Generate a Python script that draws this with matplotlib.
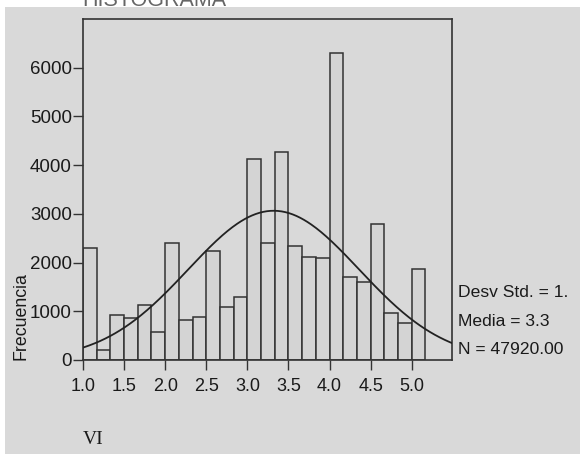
import numpy as np
import matplotlib.pyplot as plt
from matplotlib.patches import Rectangle

# histogram bins: width 1/6 starting at 1.0
bin_start = 1.0
bin_width = 1 / 6
counts = [2290, 200, 920, 870, 1130, 580, 2410, 820, 890, 2230,
          1080, 1290, 4130, 2400, 4280, 2350, 2120, 2090, 6300, 1700,
          1600, 2790, 960, 750, 1860]

x_ticks = [1.0, 1.5, 2.0, 2.5, 3.0, 3.5, 4.0, 4.5, 5.0]
y_ticks = [0, 1000, 2000, 3000, 4000, 5000, 6000]

# fitted normal curve parameters
mean = 3.32
std_dev = 1.04
n_total = 47920

stats_lines = ["Desv Std. = 1.", "Media = 3.3", "N = 47920.00"]
x_label = "VI"
y_label = "Frecuencia"
title = "HISTOGRAMA"

bg = "#d9d9d9"
edge = "#333333"
txt = "#1a1a1a"
font = "Liberation Sans"

fig = plt.figure(figsize=(5.8, 4.54), dpi=100, facecolor="white")
fig.add_artist(Rectangle((5 / 580, 0), 1, 1 - 7 / 454, transform=fig.transFigure,
                         facecolor=bg, edgecolor="none", zorder=-10))

ax = fig.add_axes([83 / 580, 94 / 454, 369 / 580, 341 / 454])
ax.set_facecolor(bg)

edges = bin_start + bin_width * np.arange(len(counts))
ax.bar(edges, counts, width=bin_width, align="edge", color="#d4d4d4",
       edgecolor=edge, linewidth=1.1, zorder=2)

xlim = (1.0, 5.49)
xs = np.linspace(xlim[0], xlim[1], 300)
curve = n_total * bin_width / (std_dev * np.sqrt(2 * np.pi)) * np.exp(-0.5 * ((xs - mean) / std_dev) ** 2)
ax.plot(xs, curve, color="#222222", linewidth=1.3, zorder=3)

ax.set_xlim(*xlim)
ax.set_ylim(0, 7000)
ax.set_xticks(x_ticks)
ax.set_xticklabels([f"{v:.1f}" for v in x_ticks], fontsize=13, family=font, color=txt)
ax.set_yticks(y_ticks)
ax.set_yticklabels([str(v) for v in y_ticks], fontsize=13.5, family=font, color=txt)
ax.tick_params(axis="x", direction="out", length=7, width=1, color=edge, pad=6)
ax.tick_params(axis="y", direction="out", length=7, width=1, color=edge, pad=1)
for sp in ax.spines.values():
    sp.set_color(edge)
    sp.set_linewidth(1.2)

# stats box on the right
for i, line in enumerate(stats_lines):
    fig.text(458 / 580, 1 - (297 + 28.5 * i) / 454, line, fontsize=12.6,
             family=font, color=txt, va="baseline", ha="left")

fig.text(21 / 580, 1 - 316 / 454, y_label, rotation=90, fontsize=12.8,
         family=font, color=txt, ha="center", va="center")
fig.text(83 / 580, 1 - 444 / 454, x_label, fontsize=14, family="Liberation Serif",
         color=txt, ha="left", va="baseline")

# title is cut off at the top of the picture, as in the reference
fig.text(82 / 580, 1 - 6 / 454, title, fontsize=15.5, family=font,
         color="#666666", ha="left", va="baseline")

fig.savefig("out.png", dpi=100, facecolor="white")
